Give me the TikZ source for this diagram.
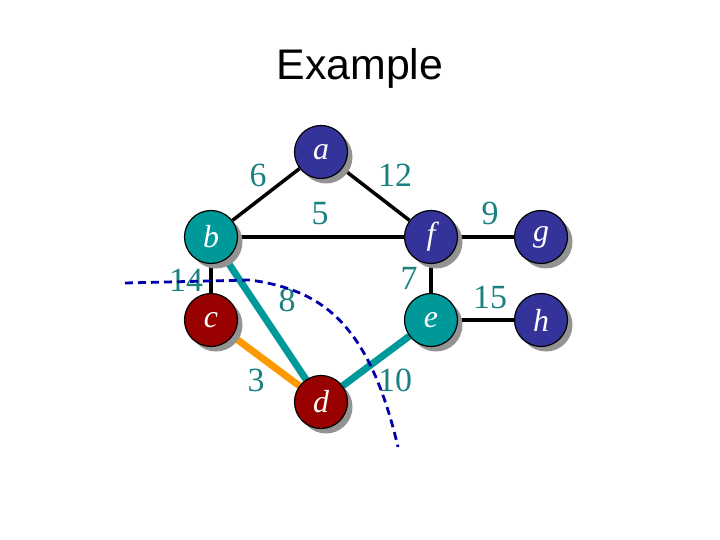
\documentclass[tikz,border=0pt]{standalone}
\usepackage{fontspec}
\setmainfont{Liberation Serif}
\newfontfamily\titlefont{Liberation Sans}
\usepackage{tikz}
\usetikzlibrary{shadows, backgrounds}
\definecolor{vxblue}{HTML}{333399}
\definecolor{vxteal}{HTML}{009999}
\definecolor{vxred}{HTML}{990000}
\definecolor{wtteal}{HTML}{1A8080}
\definecolor{edorange}{HTML}{FF9900}
\definecolor{cutblue}{HTML}{0000AA}

\begin{document}
\begin{tikzpicture}[
    x=1bp, y=-1bp,
    vertex/.style={circle, draw=black, line width=1.2bp, minimum size=53bp, inner sep=0pt,
                   text=white, font=\fontsize{32}{34}\selectfont\itshape,
                   drop shadow={shadow xshift=5bp, shadow yshift=-5bp, fill=gray!85, opacity=1}},
    weight/.style={text=wtteal, font=\fontsize{34}{36}\selectfont, inner sep=0pt},
    plain/.style={line width=3.5bp, black},
    tree/.style={line width=7bp, vxteal},
    light/.style={line width=7bp, edorange}
  ]
    \useasboundingbox (0,0) rectangle (720,540);

    \node[font=\titlefont\fontsize{43}{46}\selectfont] (title) at (360,68) {Example};

    % vertices
    \node[vertex, fill=vxblue] (a) at (321,152) {a};
    \node[vertex, fill=vxteal] (b) at (211,237) {b};
    \node[vertex, fill=vxblue] (f) at (431,237) {f};
    \node[vertex, fill=vxblue] (g) at (541,237) {g};
    \node[vertex, fill=vxred]  (c) at (211,320) {c};
    \node[vertex, fill=vxteal] (e) at (431,320) {e};
    \node[vertex, fill=vxblue] (h) at (541,320) {h};
    \node[vertex, fill=vxred]  (d) at (321,402) {d};

    % edges
    \begin{scope}[on background layer]
      \draw[plain] (a) -- (b);
      \draw[plain] (a) -- (f);
      \draw[plain] (b) -- (f);
      \draw[plain] (f) -- (g);
      \draw[plain] (b) -- (c);
      \draw[plain] (f) -- (e);
      \draw[plain] (e) -- (h);
      \draw[light] (c) -- (d);
      \draw[tree] (b) -- (d);
      \draw[tree] (e) -- (d);
    \end{scope}

    % weights
    \node[weight] (w6)  at (258,175) {6};
    \node[weight] (w12) at (395,175) {12};
    \node[weight] (w5)  at (320,214) {5};
    \node[weight] (w9)  at (490,213) {9};
    \node[weight] (w14) at (186,280) {14};
    \node[weight] (w7)  at (409,278) {7};
    \node[weight] (w8)  at (287,300) {8};
    \node[weight] (w15) at (490,297) {15};
    \node[weight] (w3)  at (256,380) {3};
    \node[weight] (w10) at (395,380) {10};

    % cut
    \coordinate (cutL) at (125,283);
    \coordinate (cutR) at (398,447);
    \draw[cutblue, line width=2.8bp, dash pattern=on 8bp off 5bp]
      (cutL) -- (250,280) .. controls (320,290) and (368,320) .. (cutR);
  \end{tikzpicture}
\end{document}
